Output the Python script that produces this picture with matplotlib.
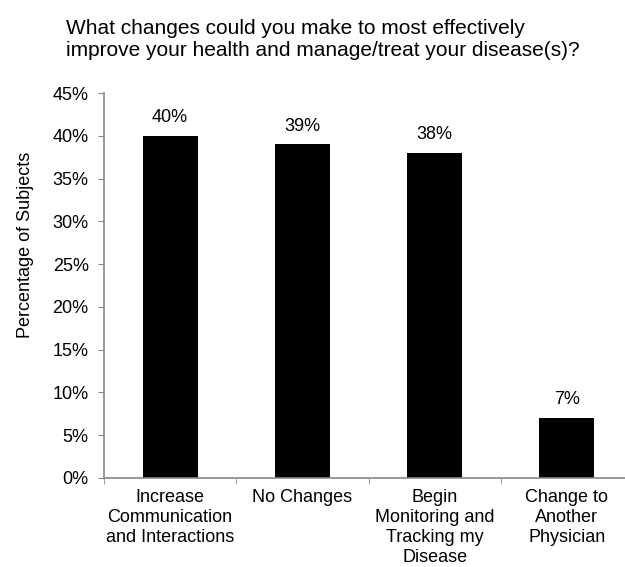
import matplotlib
matplotlib.use("Agg")
import matplotlib.pyplot as plt
import numpy as np

categories = ["Increase\nCommunication\nand Interactions", "No Changes",
              "Begin\nMonitoring and\nTracking my\nDisease", "Change to\nAnother\nPhysician"]
values = [40, 39, 38, 7]
value_labels = ["40%", "39%", "38%", "7%"]
yticks = [0, 5, 10, 15, 20, 25, 30, 35, 40, 45]
ytick_labels = ["0%", "5%", "10%", "15%", "20%", "25%", "30%", "35%", "40%", "45%"]
title = "What changes could you make to most effectively\nimprove your health and manage/treat your disease(s)?"
ylabel = "Percentage of Subjects"

plt.rcParams['font.family'] = ['Liberation Sans', 'DejaVu Sans']

fig = plt.figure(figsize=(6.25, 5.67), dpi=100)
W, H = 625, 567
ax = fig.add_axes([104 / W, 1 - 478 / H, 529 / W, 385 / H])

x = np.arange(len(categories))
ax.bar(x, values, width=0.415, color="black")
ax.set_xlim(-0.5, len(categories) - 0.5)
ax.set_ylim(0, 45)

for xi, v, lab in zip(x, values, value_labels):
    ax.annotate(lab, (xi, v), xytext=(0, 7), textcoords="offset points",
                ha="center", va="bottom", fontsize=13)

ax.set_yticks(yticks)
ax.set_yticklabels(ytick_labels, fontsize=13)
ax.set_xticks(x)
ax.set_xticklabels(categories, fontsize=13, linespacing=1.22, va="top")
ax.set_xticks(np.arange(-0.5, len(categories), 1.0), minor=True)
ax.tick_params(axis="x", which="major", length=0, pad=8)
ax.tick_params(axis="x", which="minor", length=4, color="#888888", direction="out")
ax.tick_params(axis="y", length=4, color="#888888", direction="out", pad=7)

for s in ["top", "right"]:
    ax.spines[s].set_visible(False)
for s in ["left", "bottom"]:
    ax.spines[s].set_color("#888888")
    ax.spines[s].set_linewidth(1.2)

fig.text(26 / W, 1 - 245 / H, ylabel, rotation=90, ha="center", va="center", fontsize=13)
fig.text(66 / W, 1 - 39 / H, title, ha="left", va="center", fontsize=15, linespacing=1.2)

fig.savefig("out.png", dpi=100)
